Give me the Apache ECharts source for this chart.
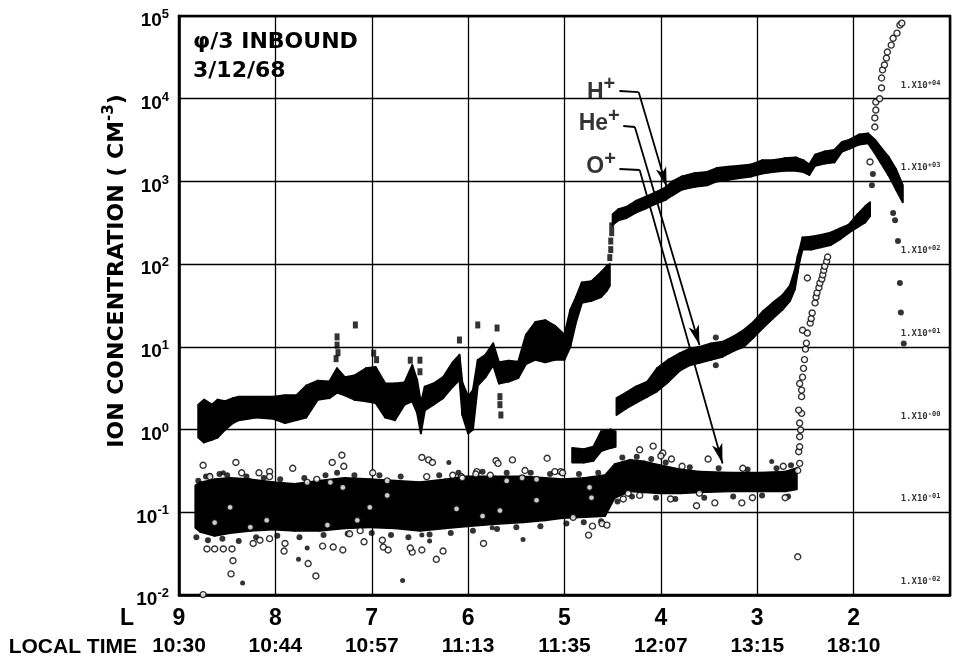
<!DOCTYPE html>
<html>
<head>
    <meta charset="utf-8">
    <title>Ion concentration, inbound 3/12/68</title>
    <script src="https://cdn.jsdelivr.net/npm/echarts@6/dist/echarts.min.js"></script>
    <style>
        body, html {
            margin: 0;
            height: 100%;
            background: #fff;
        }

        #main {
            width: 958px;
            height: 662px;
        }
    </style>
</head>
<body>
<div id="main"></div>
<script type="text/javascript">
    // tick labels
    var lShells = [9, 8, 7, 6, 5, 4, 3, 2];
    var localTimes = ['10:30', '10:44', '10:57', '11:13', '11:35', '12:07', '13:15', '18:10'];
    var rightTagDecades = [1e4, 1e3, 1e2, 1e1, 1, 0.1, 0.01];
    var rightTagExps = ['+04', '+03', '+02', '+01', '-00', '-01', '-02'];
    var ionNames = ['H', 'He', 'O'];

    // bands: [L, low, high]
    var hBandA = [
        [8.80, 0.8, 2.0], [8.74, 0.7, 2.3], [8.66, 0.75, 2.0], [8.60, 0.8, 2.3], [8.52, 1.0, 2.2],
        [8.44, 1.2, 2.4], [8.38, 1.3, 2.5], [8.20, 1.4, 2.5], [8.02, 1.35, 2.5], [7.90, 1.2, 2.6],
        [7.78, 1.3, 2.6], [7.68, 1.4, 3.4], [7.56, 2.3, 3.9], [7.44, 2.4, 3.8], [7.36, 2.8, 5.5],
        [7.28, 2.6, 4.3], [7.18, 2.3, 4.5], [7.06, 2.2, 5.5], [6.96, 2.1, 5.7], [6.86, 1.4, 3.6],
        [6.76, 1.3, 3.6], [6.66, 2.0, 3.7], [6.58, 2.2, 6.0], [6.53, 1.6, 4.0], [6.49, 0.9, 2.1],
        [6.45, 1.7, 3.3], [6.36, 2.0, 3.6], [6.26, 2.4, 4.3], [6.16, 3.3, 6.5], [6.09, 4.0, 8.0],
        [6.06, 1.5, 3.7], [6.00, 0.9, 2.5], [5.95, 1.0, 3.0], [5.90, 3.4, 6.9], [5.82, 4.3, 8.0],
        [5.74, 6.0, 11], [5.68, 3.6, 6.5], [5.58, 3.8, 6.8], [5.48, 4.2, 6.6], [5.40, 6.2, 14],
        [5.30, 7, 20], [5.20, 6.5, 21], [5.10, 7, 18], [5.00, 7, 14], [4.94, 10, 28],
        [4.88, 20, 40], [4.82, 34, 60], [4.72, 36, 62], [4.62, 40, 80], [4.56, 48, 95], [4.53, 55, 100]
    ];
    var hBandB = [
        [4.50, 300, 400], [4.44, 340, 460], [4.36, 360, 490], [4.26, 420, 580], [4.16, 470, 650],
        [4.05, 540, 740], [3.95, 600, 850], [3.88, 680, 1000], [3.78, 800, 1150], [3.65, 860, 1260],
        [3.52, 900, 1300], [3.42, 1000, 1450], [3.30, 1050, 1500], [3.18, 1100, 1550], [3.06, 1150, 1600],
        [2.95, 1250, 1800], [2.84, 1300, 1800], [2.72, 1350, 1900], [2.60, 1350, 1950], [2.52, 1300, 1800],
        [2.46, 1200, 1600], [2.40, 1550, 2100], [2.30, 1650, 2300], [2.20, 1700, 2400], [2.12, 2300, 3000],
        [2.04, 2500, 3200], [1.94, 2800, 3700], [1.85, 2900, 3800], [1.78, 2200, 3200], [1.72, 1700, 2600],
        [1.64, 1200, 2000], [1.56, 800, 1400], [1.49, 560, 900]
    ];
    var heBandA = [
        [4.92, 0.40, 0.60], [4.80, 0.40, 0.58], [4.70, 0.42, 0.62], [4.62, 0.55, 0.95],
        [4.52, 0.60, 1.0], [4.47, 0.62, 0.95]
    ];
    var heBandB = [
        [4.46, 1.5, 2.4], [4.36, 1.8, 2.8], [4.26, 2.1, 3.3], [4.14, 2.5, 3.8], [4.04, 2.9, 5.5],
        [3.92, 3.8, 7.0], [3.80, 5.2, 8.4], [3.70, 6.0, 9.5], [3.60, 6.4, 10], [3.48, 7.0, 11],
        [3.36, 7.6, 11.5], [3.24, 9, 13.5], [3.14, 10, 16], [3.04, 13, 20], [2.94, 17, 27],
        [2.84, 22, 34], [2.74, 28, 42], [2.66, 36, 55], [2.61, 50, 85], [2.58, 80, 125],
        [2.56, 110, 150], [2.53, 150, 210], [2.44, 150, 215], [2.34, 160, 225], [2.24, 170, 240],
        [2.14, 200, 270], [2.05, 240, 300], [1.96, 280, 400], [1.88, 320, 500], [1.83, 380, 560]
    ];
    var oBand = [
        [8.83, 0.065, 0.21], [8.78, 0.058, 0.23], [8.63, 0.052, 0.25], [8.47, 0.056, 0.26], [8.26, 0.06, 0.25],
        [8.02, 0.062, 0.23], [7.80, 0.06, 0.22], [7.54, 0.06, 0.24], [7.28, 0.064, 0.26], [7.02, 0.066, 0.25],
        [6.76, 0.064, 0.24], [6.50, 0.06, 0.23], [6.24, 0.064, 0.25], [6.01, 0.068, 0.27], [5.72, 0.072, 0.27],
        [5.43, 0.076, 0.27], [5.20, 0.08, 0.26], [5.02, 0.085, 0.25], [4.79, 0.088, 0.26], [4.58, 0.09, 0.28],
        [4.48, 0.15, 0.38], [4.32, 0.18, 0.43], [4.17, 0.175, 0.41], [4.01, 0.17, 0.37], [3.80, 0.17, 0.33],
        [3.60, 0.175, 0.31], [3.28, 0.18, 0.30], [2.97, 0.18, 0.30], [2.71, 0.18, 0.31], [2.59, 0.19, 0.34]
    ];

    // single points: [L, concentration]
    var hMarks = [
        [7.36, 10.5], [7.35, 8.5], [7.37, 7.2], [7.17, 18.4], [7.36, 13.2], [6.98, 8.4], [6.95, 7.0],
        [6.60, 6.9], [6.60, 4.3], [6.50, 6.9], [6.50, 5.0], [6.09, 12.1], [5.90, 18.4], [5.70, 16.9],
        [5.67, 2.5], [5.67, 2.0], [5.66, 1.5], [4.53, 120], [4.52, 150], [4.52, 190], [4.51, 240], [4.51, 290]
    ];
    var heDots = [
        [3.43, 13], [3.43, 6.0], [1.81, 900], [1.80, 1230], [1.59, 415], [1.57, 340],
        [1.54, 190], [1.52, 59], [1.51, 26], [1.48, 11]
    ];
    var oRise = [
        [2.58, 0.32], [2.56, 0.39], [2.57, 0.54], [2.56, 0.62], [2.56, 0.82], [2.55, 0.99], [2.56, 1.2],
        [2.54, 1.57], [2.57, 1.72], [2.54, 2.5], [2.54, 3.0], [2.56, 3.6], [2.53, 4.3], [2.52, 5.5],
        [2.51, 7.0], [2.50, 9.4], [2.49, 11.1], [2.48, 14.7], [2.45, 19.4], [2.44, 22], [2.43, 25.7],
        [2.40, 34], [2.39, 40], [2.38, 45], [2.36, 52], [2.35, 59], [2.33, 66], [2.32, 74], [2.31, 84],
        [2.30, 94], [2.28, 108], [2.27, 122]
    ];
    var oTop = [
        [1.83, 1718], [1.78, 4550], [1.78, 5850], [1.77, 7300], [1.77, 9120], [1.73, 10000],
        [1.71, 13500], [1.71, 17800], [1.70, 22300], [1.68, 25600], [1.66, 31000], [1.65, 36700],
        [1.61, 44500], [1.59, 53800], [1.55, 62000], [1.52, 77800], [1.50, 82000]
    ];
    var oCircles = [
        [8.75, 0.37], [8.41, 0.40], [8.17, 0.30], [8.06, 0.31], [7.82, 0.34], [7.41, 0.40], [7.31, 0.49],
        [7.29, 0.36], [8.71, 0.036], [8.63, 0.036], [8.54, 0.036], [8.45, 0.036], [8.44, 0.026],
        [8.46, 0.018], [8.75, 0.0101], [7.90, 0.042], [7.91, 0.034], [7.66, 0.024], [7.58, 0.017],
        [7.51, 0.039], [7.40, 0.038], [7.30, 0.035], [7.08, 0.044], [6.88, 0.038], [6.83, 0.035],
        [8.68, 0.27], [8.35, 0.30], [8.06, 0.27], [7.67, 0.23], [7.57, 0.25], [6.99, 0.30], [6.84, 0.24],
        [8.16, 0.046], [8.06, 0.048], [8.23, 0.042], [7.23, 0.055], [7.12, 0.06], [6.89, 0.046],
        [8.26, 0.066], [8.09, 0.08], [8.63, 0.075], [7.43, 0.23], [7.30, 0.20], [7.15, 0.08],
        [7.02, 0.115], [6.84, 0.16], [7.46, 0.07], [8.47, 0.115],
        [6.48, 0.46], [6.41, 0.43], [6.37, 0.40], [6.43, 0.27], [6.16, 0.28], [6.07, 0.27], [5.91, 0.31],
        [5.71, 0.42], [5.54, 0.43], [5.69, 0.39], [5.41, 0.32], [5.18, 0.45], [5.10, 0.31], [5.04, 0.31],
        [4.91, 0.087], [4.75, 0.053], [4.71, 0.068], [4.61, 0.073], [4.56, 0.07],
        [6.58, 0.033], [6.48, 0.035], [6.33, 0.027], [6.26, 0.034], [5.84, 0.042], [6.60, 0.037],
        [6.06, 0.26], [5.92, 0.29], [5.77, 0.28], [5.60, 0.24], [5.44, 0.26], [5.29, 0.25], [5.02, 0.30],
        [4.74, 0.20], [4.72, 0.15], [6.12, 0.11], [5.67, 0.105], [5.29, 0.14], [5.85, 0.09],
        [4.22, 0.57], [4.08, 0.63], [3.98, 0.52], [3.89, 0.44], [3.51, 0.44], [3.78, 0.36], [3.15, 0.34],
        [2.73, 0.36], [4.00, 0.48], [4.39, 0.145], [4.34, 0.17], [3.90, 0.145], [3.63, 0.12], [3.44, 0.13],
        [3.16, 0.13], [3.05, 0.15], [2.71, 0.15], [4.22, 0.16], [3.60, 0.17],
        [2.58, 0.029], [2.48, 68], [2.53, 15.9]
    ];
    var oDots = [
        [8.34, 0.014], [7.76, 0.027], [7.67, 0.037], [5.43, 0.047], [5.75, 0.065], [6.40, 0.045],
        [6.48, 0.053], [6.20, 0.40], [8.54, 0.30], [8.68, 0.28], [2.85, 0.41], [6.68, 0.015]
    ];
    // filled blobs on the ragged upper and lower rim of the O+ cloud
    var oRimDots = [
        [8.80, 0.24], [8.72, 0.27], [8.58, 0.29], [8.50, 0.28], [8.30, 0.27], [8.12, 0.26], [7.95, 0.25],
        [7.70, 0.26], [7.48, 0.28], [7.36, 0.30], [7.18, 0.28], [6.92, 0.28], [6.70, 0.27], [6.30, 0.28],
        [6.10, 0.30], [5.85, 0.31], [5.60, 0.30], [5.35, 0.30], [5.15, 0.29], [4.85, 0.29], [4.65, 0.30],
        [8.82, 0.05], [8.70, 0.046], [8.55, 0.048], [8.38, 0.045], [8.20, 0.05], [7.98, 0.052],
        [7.75, 0.05], [7.50, 0.053], [7.25, 0.055], [7.00, 0.056], [6.80, 0.053], [6.62, 0.05],
        [6.40, 0.054], [6.18, 0.056], [5.95, 0.06], [5.70, 0.063], [5.50, 0.066], [5.25, 0.068],
        [4.98, 0.073], [4.80, 0.076], [4.62, 0.078],
        [4.40, 0.46], [4.25, 0.47], [4.10, 0.44], [3.95, 0.40], [3.70, 0.35], [3.40, 0.34], [3.10, 0.33],
        [2.80, 0.34], [2.65, 0.37], [4.45, 0.135], [4.30, 0.155], [4.05, 0.15], [3.85, 0.145],
        [3.55, 0.15], [3.25, 0.155], [2.95, 0.16], [2.68, 0.155]
    ];

    var BOLD = '"Liberation Sans", Arial, sans-serif';
    var DEJAVU = '"DejaVu Sans", sans-serif';

    var myChart = echarts.init(document.getElementById('main'));

    function bandSeries(band) {
        return {
            type: 'custom',
            data: band,
            encode: {x: 0, y: [1, 2]},
            silent: true,
            z: 3,
            renderItem: function (params, api) {
                var i = params.dataIndex;
                if (i >= band.length - 1) {
                    return null;
                }
                var a = band[i], b = band[i + 1];
                return {
                    type: 'polygon',
                    shape: {
                        points: [
                            api.coord([a[0], a[2]]), api.coord([b[0], b[2]]),
                            api.coord([b[0], b[1]]), api.coord([a[0], a[1]])
                        ]
                    },
                    style: {fill: '#000', stroke: '#000', lineWidth: 2, lineJoin: 'round'}
                };
            }
        };
    }

    function leader(p0, p1, p2) {
        return [
            [{coord: p0, symbol: 'none'}, {coord: p1, symbol: 'none'}],
            [{coord: p1, symbol: 'none'}, {coord: p2, symbol: 'arrow', symbolSize: [8, 20]}]
        ];
    }

    var circleStyle = {color: '#fff', borderColor: '#000', borderWidth: 1.4};

    option = {
        backgroundColor: '#fff',
        animation: false,
        grid: {
            left: 179,
            right: 8,
            top: 16,
            bottom: 67,
            show: true,
            borderColor: '#000',
            borderWidth: 2.5
        },
        xAxis: {
            type: 'value',
            min: 1,
            max: 9,
            interval: 1,
            inverse: true,
            axisLine: {show: true, lineStyle: {color: '#000', width: 2.5}},
            axisTick: {show: false},
            splitLine: {show: true, lineStyle: {color: '#000', width: 1.3}},
            axisLabel: {
                margin: 10,
                formatter: function (v) {
                    var i = lShells.indexOf(Math.round(v));
                    if (i < 0) {
                        return '';
                    }
                    return '{l|' + lShells[i] + '}\n{t|' + localTimes[i] + '}';
                },
                rich: {
                    l: {fontSize: 23, fontWeight: 'bold', fontFamily: BOLD, color: '#000', lineHeight: 28},
                    t: {fontSize: 21, fontWeight: 'bold', fontFamily: BOLD, color: '#000', lineHeight: 26}
                }
            }
        },
        yAxis: {
            type: 'log',
            logBase: 10,
            min: 0.01,
            max: 100000,
            splitNumber: 7,
            axisLine: {show: true, lineStyle: {color: '#000', width: 2.5}},
            axisTick: {show: false},
            splitLine: {show: true, lineStyle: {color: '#000', width: 1.3}},
            minorTick: {show: false},
            axisLabel: {
                margin: 10,
                padding: [10, 0, 0, 0],
                formatter: function (v) {
                    return '{b|10}{s|' + Math.round(Math.log10(v)) + '}';
                },
                rich: {
                    b: {fontSize: 19, fontWeight: 'bold', fontFamily: BOLD, color: '#000', lineHeight: 26},
                    s: {fontSize: 13, fontWeight: 'bold', fontFamily: BOLD, color: '#000', lineHeight: 12, verticalAlign: 'top'}
                }
            }
        },
        graphic: [
            {
                type: 'text', left: 193, top: 31,
                style: {text: 'φ/3 INBOUND', font: 'bold 22px ' + DEJAVU, fill: '#000'}
            },
            {
                type: 'text', left: 193, top: 60,
                style: {text: '3/12/68', font: 'bold 22px ' + DEJAVU, fill: '#000'}
            },
            {
                type: 'text', x: 117, y: 271, rotation: Math.PI / 2,
                style: {
                    text: '{n|ION CONCENTRATION ( CM}{s|-3}{n|)}',
                    align: 'center', verticalAlign: 'middle',
                    rich: {
                        n: {fontSize: 22, fontWeight: 'bold', fontFamily: DEJAVU, fill: '#000', lineHeight: 30},
                        s: {fontSize: 15, fontWeight: 'bold', fontFamily: DEJAVU, fill: '#000', lineHeight: 14, verticalAlign: 'top'}
                    }
                }
            },
            {
                type: 'text', x: 127, y: 619,
                style: {text: 'L', font: 'bold 23px ' + BOLD, fill: '#000', align: 'center', verticalAlign: 'middle'}
            },
            {
                type: 'text', x: 137, y: 647,
                style: {text: 'LOCAL TIME', font: 'bold 21px ' + BOLD, fill: '#000', align: 'right', verticalAlign: 'middle'}
            }
        ],
        series: [
            bandSeries(oBand),
            bandSeries(hBandA),
            bandSeries(hBandB),
            bandSeries(heBandA),
            bandSeries(heBandB),
            {
                name: 'O rim',
                type: 'scatter',
                silent: true,
                z: 4,
                symbolSize: 6,
                itemStyle: {color: '#000'},
                data: oRimDots
            },
            {
                name: 'H marks',
                type: 'scatter',
                silent: true,
                z: 4,
                symbol: 'rect',
                symbolSize: [5, 7],
                itemStyle: {color: '#000'},
                data: hMarks
            },
            {
                name: 'He dots',
                type: 'scatter',
                silent: true,
                z: 4,
                symbolSize: 6,
                itemStyle: {color: '#000'},
                data: heDots
            },
            {
                name: 'O dots',
                type: 'scatter',
                silent: true,
                z: 4,
                symbolSize: 5,
                itemStyle: {color: '#000'},
                data: oDots
            },
            {
                name: 'O circles',
                type: 'scatter',
                silent: true,
                z: 5,
                symbolSize: 6,
                itemStyle: circleStyle,
                data: oCircles.concat(oRise, oTop)
            },
            {
                name: 'ion labels',
                type: 'scatter',
                silent: true,
                z: 6,
                symbolSize: 0,
                data: [[4.62, 12000], [4.64, 4940], [4.62, 1490]],
                label: {
                    show: true,
                    position: 'inside',
                    formatter: function (p) {
                        return '{m|' + ionNames[p.dataIndex] + '}{p|+}';
                    },
                    rich: {
                        m: {fontSize: 23, fontWeight: 'bold', fontFamily: BOLD, color: '#000', lineHeight: 36},
                        p: {fontSize: 20, fontWeight: 'bold', fontFamily: BOLD, color: '#000', lineHeight: 14, verticalAlign: 'top'}
                    }
                },
                markLine: {
                    silent: true,
                    animation: false,
                    symbol: ['none', 'none'],
                    label: {show: false},
                    lineStyle: {color: '#000', width: 1.8, type: 'solid'},
                    data: []
                        .concat(leader([4.43, 12400], [4.23, 12000], [3.94, 855]))
                        .concat(leader([4.39, 4680], [4.27, 4550], [3.60, 10.5]))
                        .concat(leader([4.43, 1413], [4.22, 1374], [3.36, 0.39]))
                }
            },
            {
                name: 'printout tags',
                type: 'scatter',
                silent: true,
                z: 6,
                symbolSize: 0,
                data: rightTagDecades.map(function (d) {
                    return [1.1, d * 1.45];
                }),
                label: {
                    show: true,
                    position: 'left',
                    distance: 0,
                    formatter: function (p) {
                        return '{a|1.X10}{s|' + rightTagExps[p.dataIndex] + '}';
                    },
                    rich: {
                        a: {fontSize: 9, fontWeight: 'bold', fontFamily: '"DejaVu Sans Mono", monospace', color: '#000', lineHeight: 12},
                        s: {fontSize: 7, fontWeight: 'bold', fontFamily: '"DejaVu Sans Mono", monospace', color: '#000', lineHeight: 8, verticalAlign: 'top'}
                    }
                }
            }
        ]
    };

    myChart.setOption(option);
</script>
</body>
</html>
